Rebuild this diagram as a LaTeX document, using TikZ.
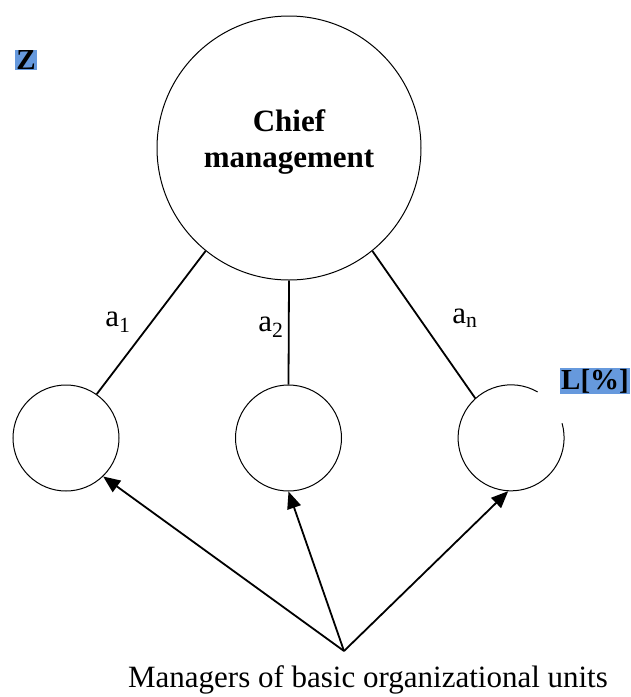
\documentclass[tikz,border=0pt]{standalone}
\usepackage{fontspec}
\setmainfont{Liberation Serif}
\usetikzlibrary{arrows.meta}
\definecolor{hl}{RGB}{102,153,221}
\begin{document}
\begin{tikzpicture}[x=1pt,y=-1pt,
  conn/.style={line width=1.8pt},
  arr/.style={line width=1.8pt,-{Triangle[length=17pt,width=14pt]}},
  lbl/.style={font=\fontsize{31}{34}\selectfont},
  hlbox/.style={fill=hl,inner sep=1pt,font=\fontsize{29}{31}\selectfont\bfseries}]
\useasboundingbox (0,0) rectangle (630,697);
\node[circle,draw,line width=1pt,minimum size=264pt,inner sep=0pt] (chief) at (289,148) {};
\node[align=center,font=\fontsize{31}{36}\selectfont\bfseries] (chieft) at (289,142) {Chief\\management};
\node[circle,draw,line width=1pt,minimum size=106pt,inner sep=0pt] (m1) at (66,438) {};
\node[circle,draw,line width=1pt,minimum size=106pt,inner sep=0pt] (m2) at (288.5,438) {};
\node[circle,minimum size=106pt,inner sep=0pt] (m3) at (511,438) {};
\draw[line width=1pt] (m3.60) arc[start angle=60,end angle=376,radius=53pt];
\draw[conn] (chief.-129) -- (m1.55);
\draw[conn] (chief.south) -- (m2.north);
\draw[conn] (chief.-51) -- (m3.132);
\node[lbl] (a1) at (118,322) {a\textsubscript{1}};
\node[lbl] (a2) at (271,327) {a\textsubscript{2}};
\node[lbl] (an) at (465,318) {a\textsubscript{n}};
\coordinate (src) at (344,651);
\draw[arr] (src) -- (m1.-46);
\draw[arr] (src) -- (m2.south);
\draw[arr] (src) -- (m3.-93);
\node[lbl] (mgr) at (368,680) {Managers of basic organizational units};
\node[hlbox] (z) at (26,60) {Z};
\node[hlbox] (l) at (595,381) {L[\%]};
\end{tikzpicture}
\end{document}
